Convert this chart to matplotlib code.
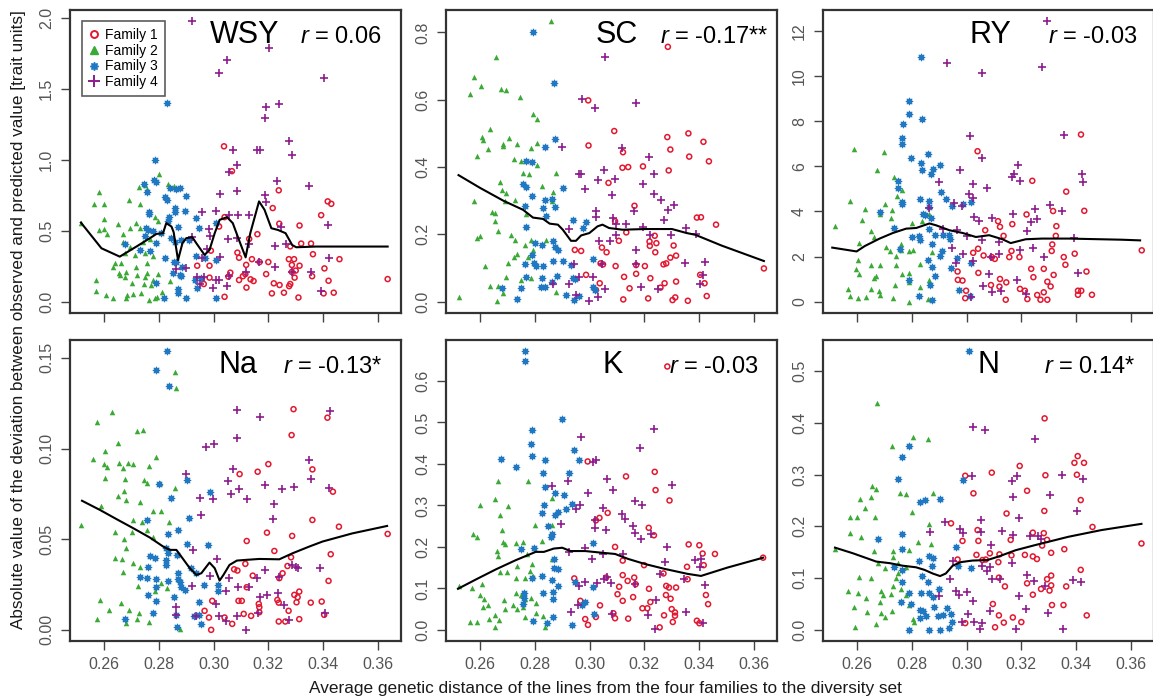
import matplotlib
matplotlib.use("Agg")
import matplotlib.pyplot as plt
from matplotlib.lines import Line2D

plt.rcParams['font.family'] = ['Liberation Sans', 'DejaVu Sans']
plt.rcParams['mathtext.fontset'] = 'custom'
plt.rcParams['mathtext.it'] = 'Liberation Sans:italic'
plt.rcParams['mathtext.rm'] = 'Liberation Sans'

FAMILIES = ["Family 1", "Family 2", "Family 3", "Family 4"]
PANELS = ["WSY", "SC", "RY", "Na", "K", "N"]
R_LABELS = ["0.06", "-0.17**", "-0.03", "-0.13*", "-0.03", "0.14*"]
X_TICKS = [0.26, 0.28, 0.30, 0.32, 0.34, 0.36]

# ---------------- WSY ----------------
WSY_F1_X = [0.3038,0.3067,0.3238,0.3216,0.3393,0.3417,0.343,0.304,0.302,0.3314,0.324,0.316,0.313,0.332,0.3356,0.328,0.3363,0.3087,0.3093,0.299,0.294,0.2985,0.3119,0.314,0.320,0.3275,0.3294,0.346,0.3405,0.342,0.3439,0.3402,0.3636,0.3286,0.3314,0.330,0.3286,0.3296,0.328,0.3276,0.331,0.336,0.3192,0.322,0.3241,0.3257,0.3213,0.3168,0.3093,0.3107,0.3116,0.3135,0.312,0.3146,0.3061,0.3054,0.304,0.2964,0.2985]
WSY_F1_Y = [1.095,0.92,0.785,0.66,0.61,0.707,0.69,0.596,0.53,0.537,0.55,0.476,0.443,0.41,0.41,0.39,0.335,0.346,0.31,0.36,0.254,0.254,0.26,0.30,0.28,0.30,0.30,0.30,0.235,0.148,0.064,0.059,0.16,0.259,0.254,0.22,0.21,0.17,0.125,0.11,0.03,0.18,0.195,0.13,0.118,0.064,0.059,0.28,0.153,0.18,0.195,0.158,0.10,0.146,0.205,0.177,0.035,0.125,0.17]
WSY_F2_X = [0.2514,0.2582,0.2563,0.26,0.2598,0.258,0.26,0.261,0.2651,0.2691,0.273,0.2728,0.2751,0.2758,0.28,0.2834,0.2854,0.2785,0.2797,0.2716,0.2696,0.273,0.2669,0.2669,0.2696,0.2742,0.2767,0.2675,0.2712,0.2748,0.2779,0.2755,0.2639,0.2631,0.2663,0.2653,0.2659,0.2681,0.2678,0.2716,0.2721,0.2755,0.2751,0.2779,0.2797,0.2572,0.2572,0.2606,0.2634,0.2679,0.2685,0.2706,0.2733,0.2773,0.2764,0.2786,0.2793,0.2813,0.2839,0.2700,0.2745]
WSY_F2_Y = [0.558,0.77,0.69,0.69,0.584,0.506,0.51,0.476,0.55,0.714,0.69,0.805,0.82,0.795,0.90,0.83,0.817,0.596,0.572,0.558,0.523,0.523,0.478,0.424,0.384,0.42,0.445,0.346,0.33,0.342,0.323,0.27,0.27,0.247,0.276,0.205,0.188,0.212,0.177,0.247,0.188,0.205,0.177,0.153,0.193,0.153,0.075,0.047,0.028,0.03,0.047,0.054,0.061,0.118,0.012,0.028,0.035,0.066,0.146,0.13,0.125]
WSY_F3_X = [0.2831,0.2785,0.2782,0.2791,0.2746,0.2758,0.2824,0.2831,0.2839,0.2864,0.2876,0.2858,0.2858,0.2764,0.2764,0.2752,0.276,0.2779,0.2837,0.2834,0.2748,0.2809,0.29,0.2894,0.2871,0.2937,0.2945,0.2844,0.2882,0.2860,0.291,0.2791,0.273,0.2675,0.2768,0.297,0.2937,0.2821,0.2857,0.2864,0.2886,0.2852,0.2876,0.2882,0.2931,0.2955,0.2939,0.279,0.287,0.287,0.2819,0.29,0.301,0.301,0.301]
WSY_F3_Y = [1.40,1.0,0.86,0.843,0.83,0.77,0.735,0.718,0.80,0.794,0.80,0.66,0.63,0.63,0.617,0.518,0.506,0.495,0.596,0.57,0.46,0.483,0.742,0.636,0.53,0.59,0.523,0.448,0.436,0.42,0.436,0.412,0.365,0.41,0.36,0.306,0.323,0.306,0.278,0.278,0.247,0.205,0.188,0.18,0.153,0.165,0.094,0.13,0.087,0.059,0.028,0.024,0.024,0.558,0.294]
WSY_F4_X = [0.2922,0.302,0.305,0.3202,0.3402,0.3192,0.3238,0.3186,0.3275,0.3287,0.316,0.3171,0.3071,0.3086,0.3057,0.3233,0.3348,0.3024,0.3086,0.3186,0.3192,0.2959,0.301,0.3058,0.3089,0.3129,0.3419,0.3247,0.2983,0.2985,0.3054,0.3084,0.2921,0.2977,0.3128,0.3224,0.3264,0.2956,0.3023,0.3423,0.3165,0.3224,0.2861,0.2898,0.3119,0.3287,0.3357,0.2939,0.2964,0.3055,0.301,0.3019,0.3049,0.2998,0.3392,0.2951]
WSY_F4_Y = [1.976,1.61,1.705,1.79,1.576,1.375,1.395,1.296,1.135,1.037,1.067,1.067,1.072,0.966,0.912,0.853,0.813,0.761,0.782,0.754,0.704,0.631,0.638,0.612,0.612,0.612,0.54,0.525,0.511,0.46,0.44,0.448,0.455,0.37,0.405,0.396,0.405,0.311,0.318,0.311,0.283,0.247,0.228,0.24,0.207,0.212,0.212,0.172,0.172,0.181,0.153,0.153,0.11,0.094,0.075,0.122]
WSY_LX = [0.2515,0.259,0.2657,0.2718,0.2773,0.2791,0.2815,0.2827,0.2846,0.2854,0.287,0.2886,0.29,0.2922,0.2937,0.2967,0.2985,0.3004,0.3022,0.3049,0.307,0.3095,0.3117,0.3134,0.3166,0.3186,0.3211,0.3235,0.3263,0.3287,0.3302,0.3374,0.3636]
WSY_LY = [0.558,0.377,0.318,0.389,0.455,0.478,0.483,0.554,0.53,0.49,0.294,0.412,0.448,0.455,0.412,0.33,0.365,0.483,0.577,0.596,0.554,0.424,0.313,0.483,0.707,0.648,0.518,0.506,0.483,0.40,0.384,0.389,0.389]

# ---------------- SC ----------------
SC_F1_X = [0.3286,0.2995,0.309,0.2996,0.3122,0.3141,0.312,0.3195,0.3069,0.3164,0.3284,0.3295,0.3289,0.3361,0.3364,0.3416,0.3436,0.3392,0.3407,0.3462,0.3093,0.3107,0.3134,0.3238,0.3219,0.3244,0.322,0.324,0.3307,0.3295,0.3316,0.327,0.328,0.2946,0.2969,0.3045,0.3062,0.304,0.3049,0.3095,0.317,0.3202,0.3126,0.317,0.3222,0.3274,0.3259,0.3316,0.3146,0.3404,0.342,0.3428,0.3313,0.3303,0.3359,0.3214,0.3123,0.2987,0.3037,0.3023,0.3637]
SC_F1_Y = [0.757,0.598,0.507,0.464,0.444,0.40,0.398,0.402,0.353,0.285,0.489,0.452,0.39,0.50,0.431,0.475,0.417,0.25,0.251,0.229,0.239,0.181,0.206,0.196,0.179,0.174,0.166,0.147,0.167,0.131,0.137,0.111,0.114,0.154,0.151,0.161,0.147,0.114,0.111,0.106,0.109,0.106,0.074,0.083,0.07,0.055,0.042,0.06,0.04,0.08,0.055,0.017,0.013,0.005,0.003,0.01,0.007,0.08,0.055,0.035,0.099]
SC_F2_X = [0.286,0.2658,0.2576,0.2564,0.2602,0.2675,0.2693,0.2745,0.2794,0.2806,0.2636,0.2606,0.2612,0.259,0.263,0.2685,0.2683,0.2706,0.2733,0.2723,0.2751,0.2787,0.2806,0.2808,0.2757,0.2779,0.2878,0.2673,0.2679,0.2694,0.2827,0.2866,0.2864,0.2576,0.2727,0.269,0.2642,0.2654,0.2654,0.2769,0.2664,0.2713,0.2728,0.259,0.2598,0.2763,0.2793,0.2787,0.2839,0.2733,0.2724,0.2775,0.2702,0.2618,0.2696,0.2751,0.2785,0.2636,0.2666,0.2685,0.2876,0.2663,0.2521]
SC_F2_Y = [0.833,0.726,0.666,0.616,0.641,0.633,0.628,0.608,0.557,0.542,0.512,0.489,0.479,0.432,0.454,0.469,0.462,0.487,0.467,0.425,0.417,0.457,0.472,0.405,0.381,0.378,0.381,0.355,0.333,0.323,0.343,0.326,0.298,0.30,0.303,0.298,0.266,0.263,0.239,0.261,0.209,0.199,0.182,0.189,0.196,0.169,0.154,0.184,0.184,0.141,0.134,0.134,0.114,0.106,0.075,0.065,0.072,0.048,0.048,0.025,0.028,0.003,0.013]
SC_F3_X = [0.2793,0.2869,0.2838,0.2873,0.2767,0.2790,0.2755,0.2766,0.2791,0.2763,0.2836,0.2862,0.2873,0.2902,0.2830,0.2767,0.2801,0.2839,0.2827,0.2941,0.2975,0.2987,0.2866,0.2874,0.2886,0.2902,0.2866,0.2763,0.2796,0.2803,0.2830,0.2932,0.2880,0.2938,0.2948,0.2863,0.2827,0.2767,0.2824,0.2836,0.2751,0.2679,0.2733,0.3013,0.3013,0.302,0.2914,0.2944,0.2963,0.279]
SC_F3_Y = [0.80,0.651,0.46,0.484,0.419,0.414,0.35,0.341,0.313,0.283,0.301,0.305,0.281,0.338,0.278,0.222,0.174,0.255,0.169,0.243,0.219,0.237,0.179,0.162,0.154,0.122,0.121,0.111,0.114,0.106,0.106,0.109,0.077,0.072,0.067,0.06,0.072,0.075,0.045,0.045,0.04,0.04,0.007,0.126,0.045,0.035,0.02,0.005,0.017,0.139]
SC_F4_X = [0.3056,0.2972,0.3021,0.317,0.29,0.312,0.2960,0.2968,0.2984,0.3029,0.3053,0.3093,0.3081,0.3195,0.3234,0.3216,0.3234,0.326,0.3286,0.3307,0.3024,0.3025,0.3087,0.3098,0.3132,0.3162,0.3195,0.322,0.3271,0.3298,0.3353,0.3388,0.2926,0.3033,0.3098,0.3074,0.3168,0.317,0.2944,0.3047,0.3349,0.3422,0.3416,0.3404,0.3250,0.3189,0.3057,0.3029,0.2996,0.3011,0.2963,0.2924,0.2866,0.2950]
SC_F4_Y = [0.728,0.603,0.575,0.591,0.459,0.457,0.378,0.38,0.336,0.361,0.39,0.365,0.316,0.35,0.38,0.429,0.32,0.301,0.273,0.288,0.27,0.253,0.25,0.232,0.231,0.27,0.221,0.199,0.244,0.199,0.219,0.202,0.216,0.179,0.199,0.179,0.154,0.111,0.111,0.111,0.114,0.117,0.08,0.052,0.038,0.043,0.038,0.015,0.002,0.073,0.075,0.052,0.052,0.02]
SC_LX = [0.2521,0.26,0.2685,0.2757,0.2793,0.2830,0.2854,0.2884,0.2902,0.2932,0.2950,0.2969,0.2999,0.3029,0.3047,0.3071,0.3120,0.3204,0.3301,0.3355,0.3386,0.3482,0.3637]
SC_LY = [0.376,0.338,0.30,0.273,0.25,0.246,0.232,0.229,0.214,0.181,0.181,0.197,0.204,0.224,0.229,0.219,0.214,0.216,0.216,0.204,0.199,0.167,0.121]

# ---------------- RY ----------------
RY_F1_X = [0.3040,0.324,0.3364,0.3418,0.343,0.3316,0.3219,0.3167,0.3115,0.3122,0.3068,0.3328,0.3326,0.3313,0.3135,0.3042,0.3024,0.3062,0.3092,0.3103,0.3156,0.3164,0.3193,0.3311,0.3355,0.3361,0.3395,0.2968,0.2985,0.2967,0.3043,0.3236,0.3244,0.3282,0.3318,0.3438,0.3122,0.3145,0.3295,0.3307,0.3089,0.312,0.3195,0.3213,0.3222,0.2998,0.2995,0.3143,0.3258,0.3282,0.327,0.3295,0.3407,0.3419,0.3407,0.3458,0.364]
RY_F1_Y = [6.67,5.36,4.88,7.41,4.03,4.02,3.87,3.44,3.57,3.32,3.17,3.35,2.92,2.54,2.92,2.35,2.17,2.05,1.98,1.9,1.98,2.25,1.98,2.25,1.98,1.64,2.13,0.97,0.94,1.34,1.28,1.46,1.09,1.46,1.19,1.34,1.01,0.86,0.89,0.68,0.74,0.67,0.57,0.49,0.12,0.49,0.16,0.09,0.30,0.42,0.09,0.09,0.49,0.49,0.31,0.31,2.28]
RY_F2_X = [0.2588,0.2697,0.2673,0.2573,0.2733,0.2703,0.2630,0.2765,0.2747,0.2728,0.2725,0.2685,0.2618,0.2519,0.2652,0.2662,0.2607,0.2704,0.2719,0.2741,0.2759,0.2761,0.2801,0.2788,0.2804,0.2838,0.2873,0.2862,0.2602,0.2594,0.2608,0.2652,0.2682,0.2668,0.2662,0.2743,0.2765,0.2789,0.2791,0.2828,0.2737,0.2681,0.2682,0.2652,0.2565,0.2573,0.2604,0.2634,0.2731,0.2791,0.2828,0.2858,0.2864]
RY_F2_Y = [6.77,6.62,5.82,4.46,5.51,4.32,4.11,4.96,4.69,4.06,3.72,3.88,3.62,3.35,3.13,2.87,2.62,2.43,2.23,2.05,2.31,2.57,3.51,2.23,2.28,3.57,2.20,3.88,1.83,1.46,1.24,1.61,1.61,1.16,1.06,1.61,1.24,1.28,0.86,1.68,0.74,0.49,0.3,0.57,0.57,0.24,0.15,0.22,0.15,0.01,0.64,0.12,0.97]
RY_F3_X = [0.2835,0.2788,0.2790,0.2838,0.2767,0.2765,0.2764,0.2798,0.2858,0.2834,0.2836,0.2876,0.287,0.2903,0.2749,0.2751,0.2765,0.2764,0.2828,0.2862,0.2864,0.2842,0.2848,0.287,0.2907,0.2925,0.2947,0.2988,0.3016,0.2682,0.2735,0.2825,0.2828,0.2801,0.2861,0.2885,0.2915,0.2937,0.294,0.2874,0.2758,0.291,0.2903,0.2858,0.2873,0.2943,0.2965,0.3016,0.2885,0.2973,0.3013,0.2791,0.2825,0.2867,0.2873]
RY_F3_Y = [10.83,8.9,8.3,8.08,7.86,7.26,6.99,6.37,6.55,6.15,5.85,5.89,5.67,6.07,5.37,5.06,4.40,4.32,4.54,4.46,4.21,3.88,3.84,3.72,4.85,4.55,4.26,4.32,4.40,3.96,3.29,2.92,2.72,2.87,3.21,2.95,2.95,2.95,2.8,2.57,2.35,2.25,2.02,1.83,1.53,1.50,1.93,1.73,1.13,0.52,0.24,0.97,0.27,0.74,0.07]
RY_F4_X = [0.3295,0.2927,0.3055,0.3276,0.3013,0.3355,0.3058,0.2976,0.3187,0.3195,0.3167,0.3173,0.342,0.3424,0.2898,0.3024,0.3074,0.3007,0.3022,0.2864,0.2954,0.2982,0.3305,0.3349,0.3028,0.3092,0.3046,0.3171,0.3250,0.3236,0.3258,0.3219,0.2964,0.2913,0.3001,0.3055,0.3119,0.3392,0.2947,0.3242,0.3194,0.2985,0.3025,0.3089,0.312,0.2961,0.3282,0.3082,0.306,0.3091,0.3127,0.3185,0.3216,0.3406,0.3016]
RY_F4_Y = [12.43,10.57,10.12,10.39,7.34,7.37,6.37,5.82,6.07,5.37,5.55,5.67,5.64,5.3,5.3,5.21,5.03,4.76,4.58,4.14,4.39,4.26,4.29,4.02,3.76,3.72,3.57,3.91,4.11,3.54,3.66,3.13,3.17,3.24,2.92,2.72,2.65,2.83,2.38,2.38,2.28,2.10,1.79,1.98,2.10,1.71,1.98,1.24,0.71,0.42,0.49,0.98,0.34,1.28,0.19]
RY_LX = [0.2509,0.2598,0.2628,0.2682,0.2731,0.2779,0.2816,0.2864,0.2888,0.2937,0.2985,0.3034,0.3082,0.3131,0.3161,0.3216,0.3276,0.3373,0.3567,0.3634]
RY_LY = [2.4,2.23,2.47,2.80,3.05,3.24,3.27,3.47,3.39,3.17,3.05,2.87,2.95,2.77,2.6,2.77,2.80,2.80,2.75,2.72]

# ---------------- Na ----------------
NA_F1_X = [0.3292,0.3416,0.3285,0.32,0.3095,0.3161,0.3361,0.3436,0.3361,0.3458,0.3636,0.3195,0.3121,0.3287,0.3222,0.3428,0.3283,0.3116,0.3270,0.3252,0.324,0.3143,0.342,0.3075,0.3087,0.3121,0.3313,0.3295,0.3307,0.3233,0.3238,0.3091,0.3103,0.2995,0.3165,0.3167,0.3303,0.3355,0.3395,0.3167,0.3137,0.311,0.2967,0.2983,0.304,0.3068,0.2991,0.3238,0.3262,0.3274,0.3313,0.3404]
NA_F1_Y = [0.1217,0.117,0.1074,0.0914,0.0859,0.0872,0.0885,0.0762,0.0606,0.0569,0.0529,0.0536,0.049,0.0518,0.0435,0.0417,0.040,0.0364,0.0352,0.0312,0.0285,0.0299,0.027,0.0334,0.0327,0.0235,0.0211,0.0193,0.018,0.0165,0.015,0.016,0.016,0.016,0.0143,0.0125,0.0152,0.015,0.0156,0.0097,0.0077,0.0088,0.0105,0.0068,0.0068,0.0033,0.0,0.0046,0.0046,0.0105,0.0059,0.0083]
NA_F2_X = [0.2858,0.2864,0.2628,0.2573,0.2719,0.2743,0.2652,0.2604,0.2561,0.2598,0.261,0.2655,0.2670,0.2688,0.2707,0.2788,0.2765,0.2604,0.2676,0.2747,0.2758,0.2804,0.2858,0.2673,0.2649,0.2680,0.2731,0.2588,0.2779,0.2806,0.2704,0.2737,0.2838,0.2516,0.2755,0.2641,0.2701,0.2673,0.268,0.2777,0.2641,0.2665,0.2707,0.2731,0.2670,0.2724,0.2786,0.2806,0.2828,0.2585,0.2661,0.2616,0.2692,0.2728,0.2573,0.272,0.2764,0.2680,0.2876]
NA_F2_Y = [0.1423,0.1335,0.1202,0.1147,0.1098,0.1101,0.1032,0.0988,0.094,0.0914,0.0896,0.0922,0.089,0.0922,0.0912,0.0955,0.0905,0.0835,0.083,0.0826,0.0811,0.0811,0.0784,0.0767,0.0738,0.0716,0.0707,0.0685,0.0657,0.0657,0.0606,0.0597,0.0593,0.0578,0.0551,0.0542,0.0542,0.05,0.0453,0.0514,0.0398,0.0389,0.0367,0.0345,0.0318,0.0242,0.0217,0.0257,0.023,0.0165,0.0147,0.011,0.011,0.0092,0.0059,0.0059,0.0046,0.0037,0.0006]
NA_F3_X = [0.283,0.2788,0.2836,0.2801,0.2901,0.2846,0.2985,0.291,0.2755,0.2870,0.2834,0.2904,0.2979,0.2825,0.2834,0.2767,0.2785,0.2868,0.2825,0.2761,0.2825,0.2916,0.2934,0.2870,0.273,0.2755,0.2788,0.2834,0.287,0.2876,0.2964,0.3016,0.2791,0.2882,0.2895,0.3016,0.2761,0.2855,0.2946,0.2945,0.2928,0.2864,0.2954,0.2676,0.2867,0.2779,0.2791]
NA_F3_Y = [0.1537,0.1432,0.1346,0.0802,0.0826,0.0725,0.0758,0.0615,0.0606,0.0551,0.0529,0.0474,0.0468,0.045,0.0426,0.0408,0.0395,0.0413,0.0386,0.0349,0.0358,0.034,0.0316,0.0312,0.029,0.0285,0.0279,0.0272,0.0279,0.0262,0.0248,0.0248,0.0239,0.0239,0.022,0.0217,0.0193,0.018,0.0156,0.0083,0.0077,0.0083,0.0031,0.0059,0.0018,0.0092,0.016]
NA_F4_X = [0.3085,0.3426,0.317,0.3085,0.2973,0.3001,0.3349,0.307,0.2898,0.3355,0.3053,0.3188,0.3295,0.325,0.342,0.3092,0.3065,0.2949,0.2998,0.3122,0.3222,0.2955,0.3216,0.2925,0.3012,0.3186,0.3301,0.3287,0.3389,0.3307,0.3240,0.3058,0.2985,0.3159,0.2921,0.3088,0.3128,0.3046,0.3195,0.3237,0.3170,0.3010,0.3256,0.2864,0.2864,0.2937,0.302,0.3086,0.3046,0.3161,0.3274,0.3407,0.3119]
NA_F4_Y = [0.1212,0.1206,0.1175,0.1056,0.101,0.1024,0.0936,0.0885,0.0857,0.0832,0.082,0.0799,0.0789,0.0777,0.078,0.0777,0.0747,0.0725,0.072,0.072,0.0694,0.0633,0.061,0.0441,0.0389,0.033,0.0349,0.0358,0.0343,0.0343,0.0294,0.0285,0.0297,0.0285,0.0244,0.0239,0.0239,0.0217,0.0193,0.0202,0.018,0.0143,0.0138,0.0128,0.0083,0.0077,0.0077,0.0079,0.005,0.0092,0.0055,0.0095,0.0]
NA_LX = [0.2519,0.2585,0.2646,0.2707,0.2767,0.2816,0.284,0.2864,0.2882,0.2913,0.2937,0.2955,0.2985,0.3004,0.3022,0.3036,0.3058,0.3085,0.3119,0.3167,0.3240,0.3288,0.3349,0.3398,0.3507,0.3634]
NA_LY = [0.0712,0.0661,0.061,0.056,0.0509,0.0459,0.0441,0.0441,0.0404,0.034,0.0303,0.0312,0.0371,0.034,0.0272,0.0303,0.0358,0.0382,0.0386,0.0391,0.0389,0.0422,0.0459,0.0487,0.0532,0.0573]

# ---------------- K ----------------
K_F1_X = [0.3284,0.2993,0.3133,0.3238,0.3241,0.3292,0.3066,0.3036,0.3023,0.3216,0.3235,0.3093,0.3362,0.3401,0.3413,0.3458,0.3199,0.3417,0.3356,0.3121,0.3270,0.3121,0.3139,0.3163,0.3168,0.3358,0.2944,0.3060,0.3108,0.3217,0.3280,0.329,0.3316,0.3102,0.3159,0.3279,0.3296,0.3425,0.3433,0.3121,0.2966,0.3038,0.3193,0.3211,0.3222,0.3300,0.3312,0.3312,0.3272,0.3087,0.3093,0.3141,0.3023,0.2984,0.2994,0.3304,0.3392,0.3401,0.3256,0.3634]
K_F1_Y = [0.635,0.406,0.37,0.381,0.337,0.312,0.282,0.27,0.264,0.246,0.228,0.20,0.206,0.204,0.184,0.183,0.156,0.156,0.152,0.167,0.136,0.132,0.118,0.126,0.11,0.122,0.124,0.126,0.104,0.099,0.106,0.102,0.102,0.086,0.079,0.084,0.075,0.084,0.062,0.07,0.07,0.059,0.052,0.052,0.067,0.05,0.042,0.034,0.035,0.04,0.028,0.027,0.031,0.026,0.012,0.019,0.022,0.016,0.006,0.174]
K_F2_X = [0.2776,0.2666,0.2654,0.26,0.2703,0.2671,0.2861,0.2799,0.2861,0.2681,0.2573,0.2588,0.2683,0.2692,0.2731,0.2755,0.2825,0.2660,0.2664,0.2773,0.2861,0.2733,0.2788,0.2671,0.2697,0.2781,0.2763,0.2731,0.2793,0.2522,0.2571,0.2607,0.26,0.2613,0.2688,0.2730,0.2749,0.2765,0.2786,0.2803,0.2610,0.2628,0.2691,0.2721,0.2734,0.2755,0.2803,0.2829,0.2656,0.2634,0.267,0.2564,0.2588,0.2656,0.2837,0.2764]
K_F2_Y = [0.36,0.358,0.316,0.30,0.298,0.276,0.318,0.252,0.252,0.24,0.232,0.224,0.212,0.206,0.21,0.212,0.214,0.19,0.178,0.182,0.171,0.154,0.159,0.139,0.14,0.142,0.124,0.124,0.13,0.106,0.102,0.11,0.084,0.075,0.072,0.088,0.083,0.075,0.078,0.064,0.056,0.06,0.05,0.059,0.05,0.056,0.04,0.034,0.035,0.026,0.023,0.018,0.018,0.008,0.008,0.031]
K_F3_X = [0.2763,0.2763,0.2900,0.2791,0.2787,0.2791,0.2676,0.2837,0.2942,0.2962,0.273,0.283,0.2924,0.2837,0.2872,0.2908,0.2834,0.2936,0.2915,0.2825,0.2884,0.2873,0.2849,0.2864,0.2858,0.2797,0.2749,0.3011,0.2869,0.2871,0.2884,0.2825,0.2788,0.2861,0.2885,0.2945,0.3011,0.2761,0.2761,0.2755,0.283,0.2866,0.2866,0.2984,0.2972,0.3017,0.2867,0.2794,0.2845,0.2936]
K_F3_Y = [0.672,0.649,0.509,0.482,0.449,0.42,0.412,0.409,0.434,0.409,0.393,0.377,0.378,0.345,0.329,0.326,0.30,0.304,0.292,0.282,0.284,0.278,0.25,0.232,0.224,0.198,0.196,0.21,0.171,0.15,0.146,0.13,0.126,0.12,0.106,0.115,0.104,0.088,0.078,0.062,0.088,0.092,0.074,0.067,0.059,0.038,0.031,0.022,0.016,0.012]
K_F4_X = [0.3234,0.297,0.3183,0.3023,0.3011,0.292,0.2863,0.3063,0.3302,0.2994,0.3084,0.2966,0.2950,0.3165,0.3192,0.3048,0.3117,0.3129,0.3018,0.3020,0.306,0.2896,0.3157,0.3165,0.3223,0.3189,0.3284,0.2984,0.2926,0.3008,0.3050,0.3121,0.3274,0.3403,0.3407,0.3385,0.2960,0.2982,0.3026,0.3054,0.3078,0.3065,0.3346,0.3165,0.3256,0.2933,0.2957,0.3081,0.3244,0.3214,0.3352,0.3416,0.3422,0.3238]
K_F4_Y = [0.485,0.466,0.438,0.41,0.404,0.358,0.346,0.364,0.35,0.33,0.338,0.30,0.292,0.31,0.30,0.294,0.28,0.268,0.266,0.246,0.24,0.256,0.25,0.234,0.23,0.218,0.20,0.198,0.188,0.172,0.182,0.184,0.164,0.152,0.172,0.168,0.106,0.116,0.114,0.122,0.114,0.128,0.122,0.11,0.134,0.043,0.06,0.038,0.071,0.035,0.044,0.016,0.107,0.002]
K_LX = [0.2519,0.2586,0.2658,0.2730,0.2803,0.2833,0.2869,0.2900,0.2930,0.2984,0.3044,0.3093,0.3141,0.3201,0.3274,0.3358,0.3407,0.3503,0.3634]
K_LY = [0.099,0.122,0.146,0.168,0.188,0.188,0.196,0.198,0.19,0.19,0.186,0.183,0.171,0.159,0.147,0.135,0.13,0.15,0.174]

# ---------------- N ----------------
N_F1_X = [0.3285,0.3406,0.3394,0.3429,0.3194,0.3092,0.3288,0.3403,0.2995,0.3025,0.3221,0.3417,0.3284,0.3146,0.2943,0.346,0.304,0.3242,0.3282,0.2985,0.3043,0.3161,0.3294,0.3639,0.3357,0.2967,0.3036,0.307,0.3085,0.312,0.3164,0.3213,0.3242,0.3257,0.3309,0.3276,0.3116,0.3058,0.3417,0.3118,0.3309,0.3294,0.314,0.3364,0.3309,0.3221,0.3242,0.3272,0.3303,0.3096,0.3312,0.3354,0.3439,0.3118,0.3169,0.32,0.3136,0.3104,0.2995]
N_F1_Y = [0.409,0.336,0.323,0.323,0.317,0.304,0.299,0.30,0.298,0.264,0.269,0.251,0.23,0.225,0.206,0.199,0.193,0.188,0.187,0.172,0.172,0.174,0.174,0.167,0.156,0.136,0.145,0.136,0.148,0.146,0.144,0.145,0.142,0.137,0.149,0.163,0.131,0.135,0.116,0.101,0.105,0.098,0.084,0.084,0.086,0.09,0.068,0.079,0.076,0.05,0.048,0.048,0.028,0.028,0.024,0.015,0.014,0.005,0.013]
N_F2_X = [0.2673,0.2803,0.2858,0.2727,0.2656,0.267,0.261,0.2652,0.2757,0.2779,0.2876,0.263,0.2573,0.26,0.2664,0.2801,0.2861,0.2573,0.2615,0.2661,0.2731,0.2789,0.2822,0.2519,0.2871,0.2676,0.2703,0.2731,0.2749,0.2779,0.2751,0.2607,0.2649,0.2742,0.2688,0.2694,0.2725,0.2565,0.2604,0.2761,0.2779,0.2634,0.2682,0.2731,0.2589,0.2637,0.2686,0.2703,0.2727,0.2803,0.2806,0.2668,0.2592,0.2791]
N_F2_Y = [0.438,0.373,0.37,0.356,0.278,0.272,0.253,0.256,0.264,0.263,0.265,0.236,0.218,0.218,0.218,0.227,0.205,0.187,0.179,0.153,0.153,0.154,0.169,0.156,0.166,0.129,0.119,0.14,0.129,0.122,0.109,0.103,0.101,0.101,0.076,0.068,0.069,0.076,0.071,0.079,0.068,0.061,0.053,0.085,0.044,0.034,0.032,0.024,0.037,0.021,0.016,0.011,0.005,0.048]
N_F3_X = [0.3009,0.2791,0.2765,0.2751,0.2987,0.283,0.2849,0.2903,0.2763,0.2676,0.2963,0.2763,0.2825,0.2864,0.2876,0.2872,0.2969,0.3015,0.2733,0.2763,0.2837,0.2763,0.2858,0.2900,0.2864,0.2834,0.2789,0.2876,0.2759,0.2798,0.2828,0.284,0.2880,0.2894,0.293,0.2915,0.2942,0.2948,0.2828,0.285,0.2789,0.2862,0.2903,0.2937]
N_F3_Y = [0.539,0.355,0.335,0.291,0.29,0.248,0.252,0.254,0.185,0.176,0.16,0.156,0.133,0.142,0.138,0.124,0.124,0.119,0.121,0.115,0.104,0.093,0.093,0.079,0.072,0.072,0.071,0.063,0.053,0.05,0.039,0.037,0.044,0.027,0.043,0.029,0.031,0.016,0.023,0.026,0.0,0.0,0.0,0.003]
N_F4_X = [0.3024,0.3067,0.3249,0.3019,0.3348,0.3424,0.3185,0.3167,0.3306,0.3170,0.3402,0.3193,0.2922,0.3052,0.2975,0.2988,0.3054,0.2868,0.313,0.3170,0.3233,0.3261,0.3273,0.3088,0.2949,0.3058,0.3086,0.3074,0.3167,0.3221,0.3245,0.2940,0.3091,0.3122,0.3387,0.3419,0.3288,0.2961,0.2971,0.3001,0.3193,0.3024,0.2898,0.3218,0.3086,0.3296,0.3006,0.2983,0.3028,0.3055,0.3182,0.3354,0.3049]
N_F4_Y = [0.393,0.386,0.37,0.298,0.299,0.291,0.298,0.288,0.261,0.256,0.23,0.217,0.209,0.212,0.196,0.187,0.19,0.189,0.192,0.183,0.181,0.181,0.175,0.165,0.134,0.124,0.121,0.113,0.129,0.106,0.095,0.098,0.098,0.098,0.097,0.092,0.084,0.076,0.068,0.074,0.066,0.056,0.066,0.041,0.037,0.033,0.03,0.015,0.015,0.014,0.001,0.001,0.001]
N_LX = [0.2519,0.2585,0.2670,0.2719,0.2767,0.2815,0.2846,0.2876,0.2903,0.2924,0.2949,0.2979,0.3021,0.3076,0.3118,0.3179,0.3251,0.3372,0.3493,0.3639]
N_LY = [0.159,0.148,0.132,0.129,0.124,0.121,0.116,0.109,0.104,0.109,0.124,0.131,0.134,0.135,0.142,0.154,0.164,0.18,0.193,0.205]

Y_TICKS = {
    "WSY": [0.0, 0.5, 1.0, 1.5, 2.0],
    "SC": [0.0, 0.2, 0.4, 0.6, 0.8],
    "RY": [0, 2, 4, 6, 8, 10, 12],
    "Na": [0.00, 0.05, 0.10, 0.15],
    "K": [0.0, 0.1, 0.2, 0.3, 0.4, 0.5, 0.6],
    "N": [0.0, 0.1, 0.2, 0.3, 0.4, 0.5],
}
Y_FMT = {"WSY": "{:.1f}", "SC": "{:.1f}", "RY": "{:.0f}", "Na": "{:.2f}", "K": "{:.1f}", "N": "{:.1f}"}

DATA = {
    "WSY": [(WSY_F1_X, WSY_F1_Y), (WSY_F2_X, WSY_F2_Y), (WSY_F3_X, WSY_F3_Y), (WSY_F4_X, WSY_F4_Y), (WSY_LX, WSY_LY)],
    "SC": [(SC_F1_X, SC_F1_Y), (SC_F2_X, SC_F2_Y), (SC_F3_X, SC_F3_Y), (SC_F4_X, SC_F4_Y), (SC_LX, SC_LY)],
    "RY": [(RY_F1_X, RY_F1_Y), (RY_F2_X, RY_F2_Y), (RY_F3_X, RY_F3_Y), (RY_F4_X, RY_F4_Y), (RY_LX, RY_LY)],
    "Na": [(NA_F1_X, NA_F1_Y), (NA_F2_X, NA_F2_Y), (NA_F3_X, NA_F3_Y), (NA_F4_X, NA_F4_Y), (NA_LX, NA_LY)],
    "K": [(K_F1_X, K_F1_Y), (K_F2_X, K_F2_Y), (K_F3_X, K_F3_Y), (K_F4_X, K_F4_Y), (K_LX, K_LY)],
    "N": [(N_F1_X, N_F1_Y), (N_F2_X, N_F2_Y), (N_F3_X, N_F3_Y), (N_F4_X, N_F4_Y), (N_LX, N_LY)],
}

COLORS = ["#E3172F", "#3AA935", "#1F78C1", "#8C1C8E"]

W, H = 1153, 700
fig = plt.figure(figsize=(W / 100, H / 100), dpi=100)

col_left = [70, 446, 823]
ax_w = 331
row_top = [10, 340]
row_h = [303, 301]

title_pos = [(245, 35), (617, 35), (990, 35), (238, 365), (613, 365), (989, 365)]
r_pos = [(341, 37), (714, 37), (1093, 37), (333, 367), (714, 367), (1090, 367)]

def add_markers(ax, xs, ys, i):
    c = COLORS[i]
    if i == 0:
        ax.scatter(xs, ys, s=13, facecolors='none', edgecolors=c, linewidths=1.1, marker='o', zorder=3)
    elif i == 1:
        ax.scatter(xs, ys, s=16, color=c, marker='^', linewidths=0, zorder=3)
    elif i == 2:
        ax.scatter(xs, ys, s=24, color=c, marker=(8, 1, 0), linewidths=0.8, edgecolors=c, zorder=3)
    else:
        ax.scatter(xs, ys, s=28, color=c, marker='+', linewidths=1.2, zorder=3)

for k, name in enumerate(PANELS):
    r, cidx = divmod(k, 3)
    left = col_left[cidx] / W
    bottom = 1 - (row_top[r] + row_h[r]) / H
    ax = fig.add_axes([left, bottom, ax_w / W, row_h[r] / H])
    series = DATA[name]
    for i in range(4):
        add_markers(ax, series[i][0], series[i][1], i)
    ax.plot(series[4][0], series[4][1], color='black', lw=1.5, zorder=4)

    ally = [v for s in series[:4] for v in s[1]]
    xmin, xmax = 0.252, 0.364
    ymin, ymax = 0.0, max(ally)
    dx = (xmax - xmin) * 0.04
    dy = (ymax - ymin) * 0.04
    ax.set_xlim(xmin - dx, xmax + dx)
    ax.set_ylim(ymin - dy, ymax + dy)

    ax.set_xticks(X_TICKS)
    ax.set_xticklabels(["{:.2f}".format(t) for t in X_TICKS])
    yt = Y_TICKS[name]
    ax.set_yticks(yt)
    ax.set_yticklabels([Y_FMT[name].format(t) for t in yt], rotation=90, va='center')
    ax.tick_params(direction='out', length=6.5, width=1.0, color='#444444',
                   labelsize=11.5, labelcolor='#555555', pad=5)
    if r == 0:
        ax.tick_params(axis='x', labelbottom=False)
    for sp in ax.spines.values():
        sp.set_color('#333333')
        sp.set_linewidth(1.6)

    tx, ty = title_pos[k]
    fig.text(tx / W, 1 - ty / H, name, fontsize=22, ha='center', va='center', color='black')
    rx, ry = r_pos[k]
    fig.text(rx / W, 1 - ry / H, "$r$ = " + R_LABELS[k], fontsize=17, ha='center', va='center', color='black')

    if k == 0:
        handles = [
            Line2D([], [], ls='none', marker='o', markerfacecolor='none', markeredgecolor=COLORS[0], markersize=5, markeredgewidth=1.4),
            Line2D([], [], ls='none', marker='^', color=COLORS[1], markersize=5.5),
            Line2D([], [], ls='none', marker=(8, 1, 0), color=COLORS[2], markersize=6),
            Line2D([], [], ls='none', marker='+', color=COLORS[3], markersize=8, markeredgewidth=1.4),
        ]
        leg = ax.legend(handles, FAMILIES, loc='upper left', bbox_to_anchor=(0.036, 0.964),
                        fontsize=10, frameon=True, fancybox=False, handlelength=0.8,
                        handletextpad=0.35, borderpad=0.5, labelspacing=0.13, borderaxespad=0.0)
        leg.get_frame().set_edgecolor('#333333')
        leg.get_frame().set_linewidth(1.2)

fig.text(19 / W, 1 - 320 / H, "Absolute value of the deviation between observed and predicted value [trait units]",
         rotation=90, ha='center', va='center', fontsize=12.3, color='#1a1a1a')
fig.text(605 / W, 1 - 689 / H, "Average genetic distance of the lines from the four families to the diversity set",
         ha='center', va='center', fontsize=12.4, color='#1a1a1a')

fig.savefig("out.png", dpi=100)
